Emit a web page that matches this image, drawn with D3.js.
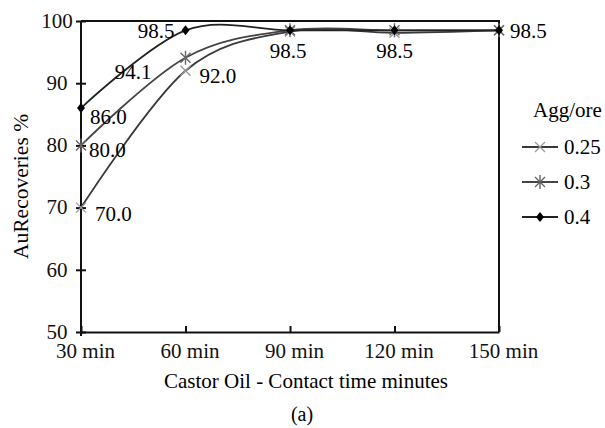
<!DOCTYPE html>
<html>
<head>
<meta charset="utf-8">
<script src="https://cdn.jsdelivr.net/npm/d3@7"></script>
<style>
  body { margin: 0; background: #fff; font-family: "Liberation Serif", serif; }
  svg text { font-family: "Liberation Serif", serif !important; }
</style>
</head>
<body>
<div class="chart"></div>
<script>
// data
const times = ["30 min", "60 min", "90 min", "120 min", "150 min"];
const ratios = ["0.25", "0.3", "0.4"];
const rec025 = [70.0, 92.0, 98.3, 98.1, 98.5];
const rec03 = [80.0, 94.1, 98.5, 98.5, 98.5];
const rec04 = [86.0, 98.5, 98.5, 98.5, 98.5];
const yTicks = [50, 60, 70, 80, 90, 100];

const FS = 21;

const series = [
  { name: ratios[0], values: rec025, marker: "x", markColor: "#9a9a9a", lineColor: "#3a3a3a" },
  { name: ratios[1], values: rec03, marker: "star", markColor: "#666", lineColor: "#444" },
  { name: ratios[2], values: rec04, marker: "diamond", markColor: "#000", lineColor: "#222" }
];

// which point gets a value label, and where it sits
const pointLabels = [
  { s: 0, i: 0, dx: 14, dy: 13, anchor: "start" },
  { s: 1, i: 0, dx: 8, dy: 12, anchor: "start" },
  { s: 2, i: 0, dx: 9, dy: 16, anchor: "start" },
  { s: 1, i: 1, dx: -34, dy: 21, anchor: "end" },
  { s: 0, i: 1, dx: 14, dy: 12, anchor: "start" },
  { s: 2, i: 1, dx: -11, dy: 8, anchor: "end" },
  { s: 1, i: 2, dx: -2, dy: 28, anchor: "middle" },
  { s: 1, i: 3, dx: 0, dy: 28, anchor: "middle" },
  { s: 2, i: 4, dx: 11, dy: 8, anchor: "start" }
];

let margin = { top: 21, right: 106, bottom: 96, left: 81 },
  width = 605 - margin.left - margin.right,
  height = 428 - margin.top - margin.bottom;

let svg = d3
  .select(".chart")
  .append("svg")
  .attr("width", 605)
  .attr("height", 428)
  .attr("font-family", "Liberation Serif")
  .append("g")
  .attr("font-family", "Liberation Serif")
  .attr("transform", "translate(" + margin.left + "," + margin.top + ")");

let x = d3.scalePoint().domain(times).range([0, width]);
let y = d3.scaleLinear().domain([50, 100]).range([height, 0]);

// frame (top + right)
svg.append("path")
  .attr("d", `M0,0H${width}V${height}`)
  .attr("fill", "none")
  .attr("stroke", "#111")
  .attr("stroke-width", 2);

// AXIS
const yAxisGroup = svg.append("g").attr("class", "axis y-axis")
  .call(d3.axisLeft(y).tickValues(yTicks).tickSize(5).tickPadding(0).tickFormat(d3.format("d")));
yAxisGroup.select(".domain").attr("d", `M0,0V${height + 4}`);
yAxisGroup.selectAll(".tick line").attr("x1", -5).attr("x2", 5);
yAxisGroup.selectAll(".tick text").attr("x", -24).attr("text-anchor", "middle").attr("dy", "0.3em");

const xAxisGroup = svg.append("g").attr("class", "axis x-axis")
  .attr("transform", "translate(0," + height + ")")
  .call(d3.axisBottom(x).tickSizeInner(-6).tickSizeOuter(0).tickPadding(11));
xAxisGroup.selectAll(".tick text").attr("dx", 4);

svg.selectAll(".axis").attr("font-family", "Liberation Serif");
svg.selectAll(".axis path, .axis line").attr("stroke", "#111").attr("stroke-width", 2);
svg.selectAll(".axis text").attr("font-size", FS).attr("fill", "#111").attr("font-family", "Liberation Serif");

// axis titles
svg.append("text")
  .attr("x", width / 2 + 16)
  .attr("y", height + 56)
  .attr("text-anchor", "middle")
  .attr("font-family", "Liberation Serif")
  .attr("font-size", FS)
  .text("Castor Oil - Contact time minutes");

svg.append("text")
  .attr("transform", `translate(${-61},${(height) / 2 + 10}) rotate(-90)`)
  .attr("text-anchor", "middle")
  .attr("dy", "0.35em")
  .attr("font-family", "Liberation Serif")
  .attr("font-size", FS + 0.5)
  .text("AuRecoveries %");

svg.append("text")
  .attr("x", width / 2 + 12)
  .attr("y", height + 89)
  .attr("text-anchor", "middle")
  .attr("font-family", "Liberation Serif")
  .attr("font-size", 20)
  .text("(a)");

// lines
const line = d3.line()
  .x((d, i) => x(times[i]))
  .y(d => y(d))
  .curve(d3.curveCardinal.tension(0));

svg.selectAll(".line")
  .data(series)
  .enter()
  .append("path")
  .attr("class", "line")
  .attr("d", d => line(d.values))
  .attr("fill", "none")
  .attr("stroke", d => d.lineColor)
  .attr("stroke-width", 1.8);

function drawMarker(g, type, color) {
  if (type === "x") {
    g.append("path").attr("d", "M-5,-5L5,5M-5,5L5,-5")
      .attr("stroke", color).attr("stroke-width", 1.3).attr("fill", "none");
  } else if (type === "star") {
    g.append("path").attr("d", "M-5,-5L5,5M-5,5L5,-5M0,-7V7")
      .attr("stroke", color).attr("stroke-width", 1.4).attr("fill", "none");
  } else {
    g.append("path").attr("d", "M0,-5L4,0L0,5L-4,0Z").attr("fill", color);
  }
}

series.forEach(s => {
  s.values.forEach((v, i) => {
    const g = svg.append("g").attr("transform", `translate(${x(times[i])},${y(v)})`);
    drawMarker(g, s.marker, s.markColor);
  });
});

// value labels
svg.selectAll(".vlabel")
  .data(pointLabels)
  .enter()
  .append("text")
  .attr("class", "vlabel")
  .attr("x", d => x(times[d.i]) + d.dx)
  .attr("y", d => y(series[d.s].values[d.i]) + d.dy)
  .attr("text-anchor", d => d.anchor)
  .attr("font-family", "Liberation Serif")
  .attr("font-size", FS)
  .text(d => d3.format(".1f")(series[d.s].values[d.i]));

// legend
const legend = svg.append("g").attr("transform", `translate(${width + 34},0)`);
legend.append("text").attr("x", 0).attr("y", 96)
  .attr("font-family", "Liberation Serif").attr("font-size", FS).text("Agg/ore");

const items = legend.selectAll(".item")
  .data(series)
  .enter()
  .append("g")
  .attr("class", "item")
  .attr("transform", (d, i) => `translate(0,${126 + i * 35})`);

items.append("line").attr("x1", -11).attr("x2", 25)
  .attr("stroke", d => d.lineColor).attr("stroke-width", 1.8);
items.each(function (d) {
  const g = d3.select(this).append("g").attr("transform", "translate(7,0)");
  drawMarker(g, d.marker, d.markColor);
});
items.append("text").attr("x", 31).attr("dy", "0.35em")
  .attr("font-family", "Liberation Serif").attr("font-size", FS).text(d => d.name);
</script>
</body>
</html>
